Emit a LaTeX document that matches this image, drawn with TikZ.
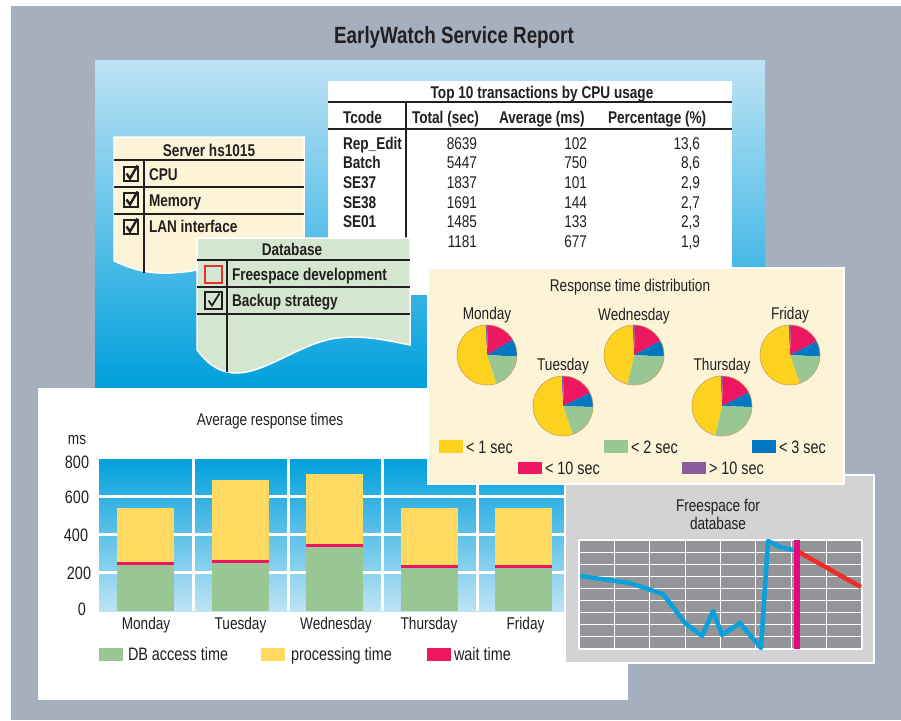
\documentclass[tikz,border=0pt]{standalone}
\usepackage{fontspec}
\setmainfont{Liberation Sans}[FakeStretch=0.8]
\definecolor{bggray}{HTML}{A5AFBD}
\definecolor{bluetop}{HTML}{BEE3F5}
\definecolor{bluebot}{HTML}{00A0DC}
\definecolor{bluemid}{HTML}{4DB8E6}
\definecolor{cream}{HTML}{FDF3D7}
\definecolor{dbgreen}{HTML}{D4E6D0}
\definecolor{ink}{HTML}{231F20}
\definecolor{bargreen}{HTML}{99C794}
\definecolor{baryellow}{HTML}{FFD960}
\definecolor{barred}{HTML}{EE1660}
\definecolor{cyellow}{HTML}{FDD21F}
\definecolor{cgreen}{HTML}{99C794}
\definecolor{cblue}{HTML}{0077C0}
\definecolor{cmag}{HTML}{ED1660}
\definecolor{cpurple}{HTML}{8C5C9A}
\definecolor{pieedge}{HTML}{C9A25A}
\definecolor{fsgray}{HTML}{D2D3D5}
\definecolor{fsgrid}{HTML}{939598}
\definecolor{fsblue}{HTML}{0AA0DC}
\definecolor{fsred}{HTML}{EE2D24}
\definecolor{fsmag}{HTML}{E5097F}
\definecolor{boxred}{HTML}{E5332A}
\tikzset{
  every node/.style={inner sep=0pt, outer sep=0pt, text=ink},
  t16/.style={font=\fontsize{17}{20}\selectfont, text height=12.2pt, text depth=0pt},
  t17/.style={font=\fontsize{18}{21}\selectfont, text height=12.9pt, text depth=0pt},
  b16/.style={font=\bfseries\fontsize{17}{20}\selectfont, text height=12.2pt, text depth=0pt},
  ttl/.style={font=\bfseries\fontsize{23.5}{27}\selectfont, text height=16.8pt, text depth=0pt},
  rule/.style={draw=ink, line width=1.2pt},
  gridw/.style={draw=white, line width=3pt},
  fsgl/.style={draw=white, line width=1.1pt},
  panel/.style={draw=white, line width=1.5pt},
}
\newcommand\tblrow[6]{%
  \node[b16,anchor=west] (#2c) at (343,#1) {#3};
  \node[t16,anchor=east] (#2t) at (477,#1) {#4};
  \node[t16,anchor=east] (#2a) at (587,#1) {#5};
  \node[t16,anchor=east] (#2p) at (700,#1) {#6};}
\newcommand\boldcheck[2]{%
  \draw[ink, line width=2.2pt] (#1-7,#2-7) rectangle (#1+7,#2+7);
  \draw[ink, line width=2.4pt, line join=miter] (#1-4.5,#2-0.5) -- (#1-1,#2+4.5) -- (#1+6.5,#2-8.5);}
\newcommand\thincheck[2]{%
  \draw[ink, line width=1.3pt] (#1-8.5,#2-8.5) rectangle (#1+8.5,#2+8.5);
  \draw[ink, line width=1.8pt] (#1-5,#2) -- (#1-1.5,#2+5) -- (#1+6,#2-7);}
\newcommand\drawbar[3]{%
  \fill[baryellow] (#1,#2) rectangle (#1+57,611);
  \fill[barred] (#1,#3-2.8) rectangle (#1+57,#3);
  \fill[bargreen] (#1,#3) rectangle (#1+57,611);}
% #1 center, #2 magenta end, #3 blue end, #4 green end (flipped angles)
\newcommand\drawpie[4]{%
  \fill[cpurple] (#1) -- ++(-93:30) arc[start angle=-93, end angle=-88, radius=30] -- cycle;
  \fill[cmag] (#1) -- ++(-88:30) arc[start angle=-88, end angle=#2, radius=30] -- cycle;
  \fill[cblue] (#1) -- ++(#2:30) arc[start angle=#2, end angle=#3, radius=30] -- cycle;
  \fill[cgreen] (#1) -- ++(#3:30) arc[start angle=#3, end angle=#4, radius=30] -- cycle;
  \fill[cyellow] (#1) -- ++(#4:30) arc[start angle=#4, end angle=267, radius=30] -- cycle;
  \draw[pieedge, line width=0.6pt] (#1) circle[radius=30];}
\begin{document}
\begin{tikzpicture}[x=1pt,y=-1pt]
\useasboundingbox (0,0) rectangle (901,720);
\fill[white] (0,0) rectangle (901,720);
\fill[bggray] (11,6) rectangle (901,720);
\node[ttl] (title) at (454,35) {EarlyWatch Service Report};

% blue panel
\shade[top color=bluetop, bottom color=bluebot] (95,60) rectangle (765,388);

% table
\fill[white] (328,81) rectangle (732,295);
\node[b16] (ttitle) at (542,92) {Top 10 transactions by CPU usage};
\draw[rule] (328,102) -- (732,102);
\draw[rule] (328,129) -- (732,129);
\draw[rule] (406,102) -- (406,262);
\node[b16,anchor=west] (h1) at (343,117) {Tcode};
\node[b16,anchor=west] (h2) at (412,117) {Total (sec)};
\node[b16,anchor=west] (h3) at (499,117) {Average (ms)};
\node[b16,anchor=west] (h4) at (608,117) {Percentage (\%)};
\tblrow{143}{ra}{Rep\_Edit}{8639}{102}{13,6}
\tblrow{162}{rb}{Batch}{5447}{750}{8,6}
\tblrow{182}{rc}{SE37}{1837}{101}{2,9}
\tblrow{202}{rd}{SE38}{1691}{144}{2,7}
\tblrow{221}{re}{SE01}{1485}{133}{2,3}
\tblrow{241}{rf}{}{1181}{677}{1,9}

% server panel
\filldraw[fill=cream, panel] (114,137) -- (304,137) -- (304,255)
  .. controls (250,252) and (210,272) .. (170,273)
  .. controls (145,274) and (130,268) .. (114,261) -- cycle;
\draw[rule] (114,160) -- (304,160);
\draw[rule] (114,187) -- (304,187);
\draw[rule] (114,214) -- (304,214);
\draw[rule] (144,160) -- (144,272.5);
\node[b16] (srv) at (209,150) {Server hs1015};
\node[b16,anchor=west] (cpu) at (149,174) {CPU};
\node[b16,anchor=west] (mem) at (149,200) {Memory};
\node[b16,anchor=west] (lan) at (149,226) {LAN interface};
\boldcheck{131}{174}
\boldcheck{131}{200}
\boldcheck{131}{227}

% database panel
\filldraw[fill=dbgreen, panel] (197,238) -- (410,238) -- (410,345)
  .. controls (385,340) and (365,335) .. (337,338)
  .. controls (300,343) and (265,374) .. (235,373)
  .. controls (215,372) and (205,360) .. (197,350) -- cycle;
\draw[rule] (197,260) -- (410,260);
\draw[rule] (197,287) -- (410,287);
\draw[rule] (197,314) -- (410,314);
\draw[rule] (227,260) -- (227,372);
\node[b16] (db) at (292,249) {Database};
\node[b16,anchor=west] (fsd) at (232,274) {Freespace development};
\node[b16,anchor=west] (bks) at (232,300) {Backup strategy};
\draw[boxred, line width=1.8pt] (205,266) rectangle (222,283);
\thincheck{213.5}{300.5}

% bar chart panel
\fill[white] (38,388) rectangle (628,700);
\node[t16] (btitle) at (270,419) {Average response times};
\node[t16] (ms) at (77,438) {ms};
\shade[top color=bluebot, middle color=bluemid, bottom color=bluetop] (99,459) rectangle (571,611);
\foreach \yy in {496,534,572} \draw[gridw] (99,\yy) -- (571,\yy);
\foreach \xx in {193.5,288,382,477} \draw[gridw] (\xx,459) -- (\xx,611);
\node[t17] (y800) at (77,462) {800};
\node[t17] (y600) at (77,497) {600};
\node[t17] (y400) at (76,535) {400};
\node[t17] (y200) at (79,573) {200};
\node[t17] (y0) at (82,609) {0};
\drawbar{117}{508}{564.5}
\drawbar{212}{480}{562.5}
\drawbar{306}{474}{546.5}
\drawbar{401}{508}{567.5}
\drawbar{495}{508}{567.5}
\node[t16] (xmon) at (146,623) {Monday};
\node[t16] (xtue) at (240.5,623) {Tuesday};
\node[t16] (xwed) at (336,623) {Wednesday};
\node[t16] (xthu) at (429,623) {Thursday};
\node[t16] (xfri) at (525.5,623) {Friday};
\fill[bargreen] (99,648) rectangle (123,661);
\node[t17,anchor=west] (lgdb) at (128,654) {DB access time};
\fill[baryellow] (261,648) rectangle (285,661);
\node[t17,anchor=west] (lgpt) at (291,654) {processing time};
\fill[barred] (427,648) rectangle (451,661);
\node[t17,anchor=west] (lgwt) at (454,654) {wait time};

% freespace panel
\filldraw[fill=fsgray, draw=white, line width=2pt] (565,475) rectangle (874,663);
\node[t16] (fs1) at (718,505) {Freespace for};
\node[t16] (fs2) at (718,523) {database};
\fill[fsgrid] (579,540) rectangle (862,649);
\foreach \k in {0,...,8} \draw[fsgl] (579+\k*35.375,540) -- (579+\k*35.375,649);
\foreach \k in {0,...,9} \draw[fsgl] (579,540+\k*12.111) -- (862,540+\k*12.111);
\draw[fsblue, line width=4.5pt, line join=round] (580,576) -- (630,583) -- (663,594) -- (685,623) -- (702,636) -- (713,611) -- (722,635) -- (740,623) -- (761,648) -- (768,541) -- (780,547) -- (797,551);
\draw[fsred, line width=4.5pt] (797,551) -- (861,587);
\draw[fsmag, line width=6pt] (797,540) -- (797,649);

% pie panel
\filldraw[fill=cream, draw=white, line width=2.5pt] (428,268) rectangle (844,484);
\node[t16] (ptitle) at (630,285) {Response time distribution};
\node[t16] (pmon) at (487,313) {Monday};
\node[t16] (ptue) at (563,364) {Tuesday};
\node[t16] (pwed) at (634,314) {Wednesday};
\node[t16] (pthu) at (722,364) {Thursday};
\node[t16] (pfri) at (790,313) {Friday};
\drawpie{487,355}{-31}{3}{72}
\drawpie{563,406}{-26}{2}{71}
\drawpie{634,355}{-28}{3}{103}
\drawpie{722,406}{-27}{2}{103}
\drawpie{790,355}{-27}{3}{71}
\fill[cyellow] (439,440) rectangle (463,453);
\node[t17,anchor=west] (l1) at (466,447) {< 1 sec};
\fill[cgreen] (604,440) rectangle (628,453);
\node[t17,anchor=west] (l2) at (631,447) {< 2 sec};
\fill[cblue] (752,440) rectangle (776,453);
\node[t17,anchor=west] (l3) at (779,447) {< 3 sec};
\fill[cmag] (518,462) rectangle (542,474);
\node[t17,anchor=west] (l4) at (545,468) {< 10 sec};
\fill[cpurple] (682,462) rectangle (706,474);
\node[t17,anchor=west] (l5) at (709,468) {> 10 sec};
\end{tikzpicture}
\end{document}
